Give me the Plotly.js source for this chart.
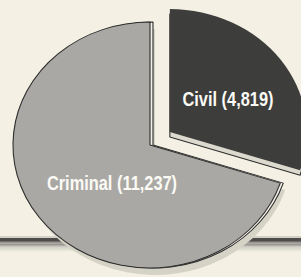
<!DOCTYPE html>
<html>
<head>
<meta charset="utf-8">
<script src="https://cdn.plot.ly/plotly-3.0.1.min.js"></script>
<style>
html,body{margin:0;padding:0;width:301px;height:277px;overflow:hidden;background:#f4f1e4;}
#chart{position:absolute;left:-20px;top:-6px;width:320px;height:320px;transform:scaleX(1.114);transform-origin:0 0;}
</style>
</head>
<body>
<div id="chart"></div>
<script>
// Data
const labels = ['Civil', 'Criminal'];
const values = [4819, 11237];
const pulls = [0.179, 0];

// Frame (the pie is printed in perspective: slightly wider than tall)
const SX = 1.114, LEFT = -20, TOP = -6, W = 320, H = 320;
const bg = '#f4f1e4';
const fmt = v => v.toLocaleString('en-US');
const texts = labels.map((l, i) => l + ' (' + fmt(values[i]) + ')');

function xPaper(screenX) { return ((screenX - LEFT) / SX) / W; }
function yPaper(screenY) { return 1 - (screenY - TOP) / H; }

// pie centre (screen px) and half-size of domain (unscaled px)
const cx = 150, cy = 145, half = 145;
function dom(dxScreen, dyScreen) {
  const xc = (cx + dxScreen - LEFT) / SX;
  return {
    x: [(xc - half) / W, (xc + half) / W],
    y: [yPaper(cy + dyScreen) - half / H, yPaper(cy + dyScreen) + half / H]
  };
}

const common = {
  type: 'pie', labels: labels, values: values, pull: pulls,
  sort: false, direction: 'clockwise', rotation: 0,
  showlegend: false, hoverinfo: 'none', textinfo: 'none'
};
const clear = 'rgba(0,0,0,0)';

const shadow = Object.assign({}, common, {
  domain: dom(5, 7),
  marker: {colors: [clear, '#d5d2c6'], line: {width: 0}}
});
const civilSide = Object.assign({}, common, {
  domain: dom(0, 5),
  marker: {colors: ['#dcd9ce', clear], line: {color: ['#2e2e2e', clear], width: [1, 0]}}
});
const criminalSide = Object.assign({}, common, {
  domain: dom(3, 0),
  marker: {colors: [clear, '#f2efe6'], line: {color: [clear, '#2e2e2e'], width: [0, 1]}}
});
const main = Object.assign({}, common, {
  domain: dom(0, 0),
  marker: {colors: ['#3d3d3c', '#a9a8a4'], line: {color: ['#3d3d3c', '#2e2e2e'], width: [0, 1]}}
});

// background band behind the pie
const shapes = [];
function band(y0, y1, color) {
  shapes.push({type: 'rect', xref: 'paper', yref: 'paper', layer: 'below',
    x0: 0, x1: 1, y0: yPaper(y1), y1: yPaper(y0), fillcolor: color, line: {width: 0}});
}
band(236, 238, '#d3d0c5');
band(238, 241, '#4d4c4a');
const grad = ['#6f6e6b', '#85837f', '#9a9893', '#aeaca6', '#c1bfb7', '#d2cfc5', '#e0ddd2', '#eae7db'];
grad.forEach((c, i) => band(241 + i * 1.3, 241 + (i + 1) * 1.3, c));

// slice labels
const labelPos = [[228, 99], [112, 183]];
const annotations = texts.map((t, i) => ({
  text: t, xref: 'paper', yref: 'paper',
  x: xPaper(labelPos[i][0]), y: yPaper(labelPos[i][1]),
  xanchor: 'center', yanchor: 'middle', showarrow: false,
  font: {family: '"Liberation Sans", Arial, sans-serif', size: 20, color: '#fbfaf4', weight: 'bold'}
}));

Plotly.newPlot('chart', [shadow, civilSide, criminalSide, main], {
  width: W, height: H,
  margin: {l: 0, r: 0, t: 0, b: 0},
  paper_bgcolor: bg, plot_bgcolor: bg,
  shapes: shapes, annotations: annotations
}, {staticPlot: true}).then(() => {
  // condensed lettering: narrow the label text horizontally around its own centre
  const s = 0.82 / SX;
  document.querySelectorAll('#chart text.annotation-text').forEach(t => {
    const b = t.getBBox();
    const bx = b.x + b.width / 2;
    const prev = t.getAttribute('transform') || '';
    t.setAttribute('transform', prev + ' translate(' + bx + ',0) scale(' + s + ',1) translate(' + (-bx) + ',0)');
  });
});
</script>
</body>
</html>
